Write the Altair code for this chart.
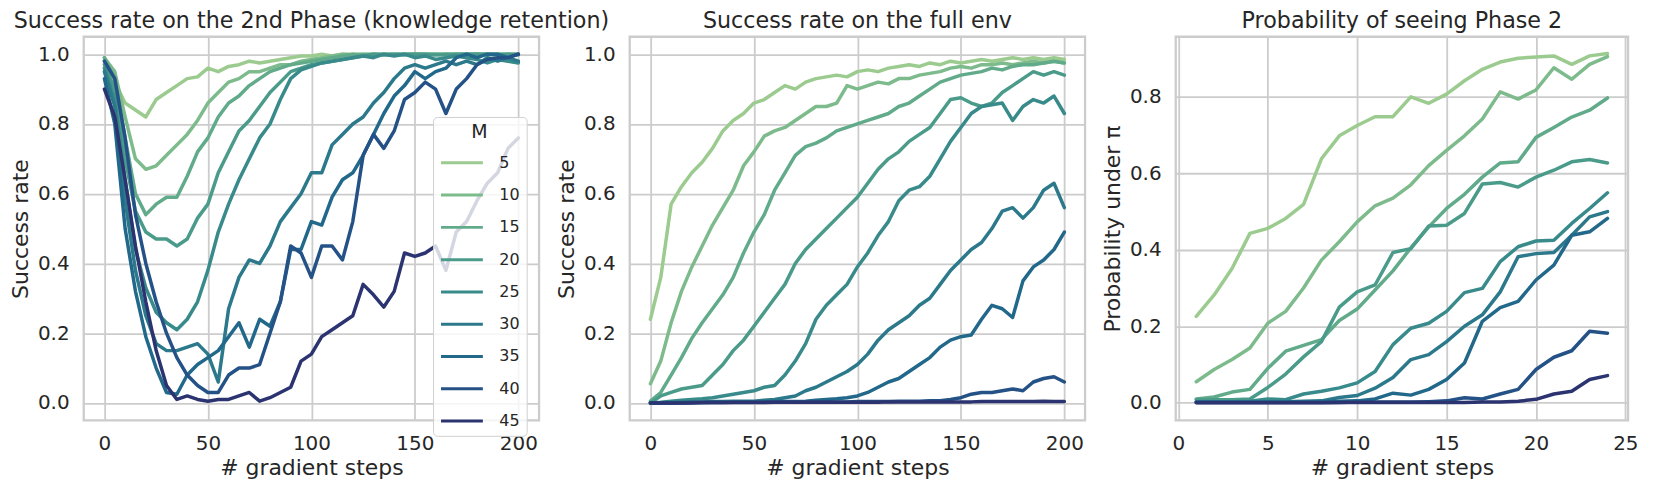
import altair as alt
import pandas as pd

M_LIST = [5, 10, 15, 20, 25, 30, 35, 40, 45]
PALETTE = ["#9ccb8f", "#7dbb8c", "#61ab8b", "#4b9b8b", "#388a8b",
           "#2b798b", "#22688a", "#255286", "#2b3470"]

STEPS_200 = list(range(0, 201, 5))
STEPS_24 = list(range(1, 25))

# ---- Panel 1: success rate on the 2nd phase (knowledge retention) ----
ret_m5 = [0.98, 0.92, 0.86, 0.84, 0.82, 0.87, 0.89, 0.91, 0.93, 0.935,
          0.96, 0.95, 0.965, 0.97, 0.98, 0.975, 0.98, 0.985, 0.99, 0.995,
          0.995, 1.0, 0.995, 1.0, 1.0, 1.0, 0.998, 1.0, 1.0, 1.0,
          1.0, 0.998, 1.0, 1.0, 1.0, 1.0, 1.0, 0.998, 1.0, 1.0, 1.0]
ret_m10 = [0.99, 0.95, 0.82, 0.70, 0.67, 0.68, 0.71, 0.74, 0.77, 0.81,
           0.86, 0.89, 0.92, 0.93, 0.95, 0.95, 0.96, 0.97, 0.97, 0.98,
           0.985, 0.99, 0.995, 1.0, 0.998, 1.0, 1.0, 1.0, 0.998, 1.0,
           1.0, 1.0, 1.0, 1.0, 0.998, 1.0, 1.0, 1.0, 1.0, 0.998, 1.0]
ret_m15 = [0.99, 0.93, 0.76, 0.60, 0.54, 0.57, 0.59, 0.59, 0.65, 0.72,
           0.76, 0.82, 0.86, 0.88, 0.91, 0.93, 0.95, 0.96, 0.97, 0.975,
           0.98, 0.985, 0.99, 0.995, 1.0, 0.998, 1.0, 1.0, 1.0, 0.998,
           1.0, 1.0, 1.0, 0.998, 1.0, 1.0, 1.0, 1.0, 1.0, 1.0, 0.998]
ret_m20 = [0.97, 0.90, 0.70, 0.55, 0.49, 0.47, 0.47, 0.45, 0.47, 0.53,
           0.57, 0.66, 0.72, 0.78, 0.81, 0.85, 0.89, 0.92, 0.95, 0.96,
           0.97, 0.975, 0.98, 0.985, 0.99, 0.995, 1.0, 0.998, 1.0, 1.0,
           1.0, 1.0, 0.998, 1.0, 1.0, 1.0, 1.0, 1.0, 0.998, 1.0, 1.0]
ret_m25 = [0.96, 0.87, 0.64, 0.44, 0.33, 0.26, 0.23, 0.21, 0.24, 0.29,
           0.38, 0.49, 0.57, 0.64, 0.70, 0.76, 0.80, 0.87, 0.93, 0.955,
           0.965, 0.975, 0.98, 0.985, 0.99, 0.995, 0.99, 1.0, 0.995, 1.0,
           0.99, 0.995, 0.985, 0.99, 0.995, 0.99, 0.985, 0.975, 0.985, 0.98, 0.975]
ret_m30 = [0.95, 0.85, 0.58, 0.38, 0.25, 0.17, 0.15, 0.15, 0.16, 0.17,
           0.14, 0.06, 0.27, 0.36, 0.41, 0.40, 0.45, 0.52, 0.56, 0.60,
           0.66, 0.66, 0.74, 0.77, 0.80, 0.82, 0.86, 0.89, 0.93, 0.96,
           0.97, 0.96, 0.97, 0.98, 0.97, 0.98, 0.97, 0.99, 0.98, 0.99, 0.98]
ret_m35 = [0.93, 0.80, 0.50, 0.32, 0.19, 0.10, 0.03, 0.025, 0.08, 0.11,
           0.13, 0.15, 0.19, 0.23, 0.16, 0.24, 0.22, 0.29, 0.44, 0.44,
           0.52, 0.51, 0.59, 0.64, 0.66, 0.71, 0.77, 0.83, 0.88, 0.91,
           0.95, 0.93, 0.95, 0.96, 0.99, 1.0, 0.99, 1.0, 1.0, 0.99, 1.0]
ret_m40 = [0.98, 0.93, 0.76, 0.54, 0.40, 0.29, 0.20, 0.13, 0.08, 0.05,
           0.03, 0.03, 0.08, 0.10, 0.10, 0.11, 0.20, 0.29, 0.45, 0.43,
           0.36, 0.45, 0.45, 0.41, 0.52, 0.71, 0.77, 0.73, 0.78, 0.87,
           0.89, 0.92, 0.90, 0.83, 0.90, 0.93, 0.97, 0.985, 0.99, 0.99, 1.0]
ret_m45 = [0.90, 0.82, 0.64, 0.45, 0.29, 0.15, 0.05, 0.01, 0.02, 0.01,
           0.005, 0.01, 0.01, 0.02, 0.03, 0.005, 0.015, 0.03, 0.045, 0.12,
           0.14, 0.19, 0.21, 0.23, 0.25, 0.34, 0.31, 0.275, 0.32, 0.43,
           0.42, 0.43, 0.45, 0.38, 0.49, 0.52, 0.58, 0.63, 0.66, 0.73, 0.76]

# ---- Panel 2: success rate on the full env ----
full_m5 = [0.24, 0.36, 0.57, 0.62, 0.66, 0.69, 0.73, 0.78, 0.81, 0.83,
           0.86, 0.87, 0.89, 0.91, 0.90, 0.92, 0.93, 0.935, 0.94, 0.935,
           0.95, 0.955, 0.95, 0.96, 0.965, 0.97, 0.965, 0.975, 0.97, 0.98,
           0.975, 0.98, 0.985, 0.98, 0.985, 0.99, 0.985, 0.99, 0.985, 0.99, 0.985]
full_m10 = [0.055, 0.12, 0.23, 0.32, 0.39, 0.45, 0.51, 0.56, 0.61, 0.68,
            0.72, 0.765, 0.78, 0.79, 0.81, 0.83, 0.85, 0.85, 0.86, 0.91,
            0.90, 0.91, 0.92, 0.915, 0.93, 0.93, 0.94, 0.945, 0.95, 0.96,
            0.965, 0.96, 0.97, 0.97, 0.975, 0.97, 0.975, 0.98, 0.975, 0.98, 0.975]
full_m15 = [0.005, 0.03, 0.08, 0.13, 0.185, 0.23, 0.27, 0.31, 0.36, 0.43,
            0.49, 0.54, 0.61, 0.66, 0.71, 0.735, 0.745, 0.76, 0.78, 0.79,
            0.80, 0.81, 0.82, 0.83, 0.85, 0.86, 0.88, 0.90, 0.92, 0.93,
            0.94, 0.945, 0.95, 0.96, 0.955, 0.965, 0.97, 0.97, 0.975, 0.98, 0.975]
full_m20 = [0.0, 0.02, 0.03, 0.04, 0.045, 0.05, 0.08, 0.11, 0.15, 0.18,
            0.22, 0.26, 0.30, 0.34, 0.40, 0.44, 0.47, 0.50, 0.53, 0.56,
            0.59, 0.63, 0.67, 0.70, 0.72, 0.75, 0.77, 0.79, 0.83, 0.87,
            0.875, 0.86, 0.85, 0.86, 0.89, 0.91, 0.93, 0.95, 0.94, 0.95, 0.94]
full_m25 = [0.0, 0.002, 0.005, 0.008, 0.01, 0.012, 0.015, 0.02, 0.025, 0.03,
            0.035, 0.045, 0.05, 0.08, 0.12, 0.17, 0.24, 0.28, 0.31, 0.34,
            0.39, 0.43, 0.48, 0.52, 0.58, 0.61, 0.62, 0.65, 0.70, 0.75,
            0.79, 0.83, 0.85, 0.855, 0.86, 0.81, 0.85, 0.87, 0.86, 0.88, 0.83]
full_m30 = [0.0, 0.0, 0.002, 0.002, 0.003, 0.003, 0.004, 0.004, 0.005, 0.005,
            0.005, 0.008, 0.01, 0.015, 0.02, 0.035, 0.045, 0.06, 0.075, 0.09,
            0.11, 0.14, 0.18, 0.21, 0.23, 0.25, 0.28, 0.30, 0.34, 0.38,
            0.41, 0.44, 0.46, 0.50, 0.55, 0.56, 0.53, 0.56, 0.61, 0.63, 0.56]
full_m35 = [0.0, 0.0, 0.0, 0.001, 0.001, 0.001, 0.002, 0.002, 0.002, 0.003,
            0.003, 0.003, 0.004, 0.004, 0.004, 0.005, 0.008, 0.01, 0.012, 0.015,
            0.02, 0.03, 0.045, 0.06, 0.07, 0.09, 0.11, 0.13, 0.16, 0.18,
            0.19, 0.195, 0.24, 0.28, 0.27, 0.245, 0.35, 0.39, 0.41, 0.44, 0.49]
full_m40 = [0.0, 0.0, 0.0, 0.0, 0.001, 0.001, 0.001, 0.001, 0.002, 0.002,
            0.002, 0.002, 0.002, 0.002, 0.003, 0.003, 0.003, 0.003, 0.003, 0.003,
            0.004, 0.004, 0.004, 0.004, 0.005, 0.005, 0.005, 0.006, 0.006, 0.01,
            0.015, 0.025, 0.03, 0.03, 0.035, 0.04, 0.035, 0.06, 0.07, 0.075, 0.06]
full_m45 = [0.0, 0.0, 0.0, 0.0, 0.0, 0.001, 0.001, 0.001, 0.001, 0.001,
            0.001, 0.001, 0.002, 0.002, 0.002, 0.002, 0.002, 0.002, 0.002, 0.002,
            0.002, 0.002, 0.002, 0.003, 0.003, 0.003, 0.003, 0.003, 0.003, 0.003,
            0.003, 0.003, 0.004, 0.004, 0.004, 0.004, 0.004, 0.004, 0.005, 0.004, 0.004]

# ---- Panel 3: probability of seeing Phase 2 ----
prob_m5 = [0.226, 0.282, 0.351, 0.443, 0.456, 0.482, 0.519, 0.638, 0.698, 0.725,
           0.748, 0.748, 0.80, 0.783, 0.807, 0.842, 0.872, 0.891, 0.901, 0.904,
           0.907, 0.885, 0.907, 0.913]
prob_m10 = [0.055, 0.087, 0.113, 0.143, 0.208, 0.239, 0.30, 0.373, 0.421, 0.473,
            0.515, 0.535, 0.57, 0.62, 0.66, 0.698, 0.742, 0.813, 0.794, 0.818,
            0.876, 0.846, 0.885, 0.905]
prob_m15 = [0.01, 0.015, 0.028, 0.035, 0.09, 0.135, 0.15, 0.165, 0.215, 0.245,
            0.295, 0.345, 0.405, 0.46, 0.508, 0.545, 0.59, 0.627, 0.63, 0.694,
            0.72, 0.747, 0.765, 0.797]
prob_m20 = [0.008, 0.008, 0.008, 0.01, 0.04, 0.075, 0.12, 0.16, 0.25, 0.29,
            0.308, 0.393, 0.403, 0.462, 0.464, 0.495, 0.572, 0.576, 0.564, 0.59,
            0.608, 0.63, 0.636, 0.627]
prob_m25 = [0.002, 0.002, 0.003, 0.004, 0.01, 0.008, 0.023, 0.03, 0.039, 0.052,
            0.082, 0.152, 0.195, 0.208, 0.239, 0.288, 0.299, 0.369, 0.408, 0.423,
            0.425, 0.469, 0.508, 0.549]
prob_m30 = [0.002, 0.002, 0.002, 0.002, 0.003, 0.003, 0.004, 0.005, 0.014, 0.019,
            0.038, 0.066, 0.113, 0.126, 0.16, 0.2, 0.23, 0.29, 0.382, 0.39,
            0.393, 0.438, 0.486, 0.50]
prob_m35 = [0.002, 0.002, 0.002, 0.002, 0.002, 0.002, 0.003, 0.003, 0.004, 0.005,
            0.01, 0.025, 0.02, 0.035, 0.061, 0.104, 0.213, 0.249, 0.265, 0.321,
            0.36, 0.438, 0.447, 0.482]
prob_m40 = [0.001, 0.001, 0.001, 0.001, 0.001, 0.001, 0.001, 0.001, 0.001, 0.002,
            0.002, 0.002, 0.002, 0.003, 0.005, 0.013, 0.01, 0.023, 0.035, 0.087,
            0.119, 0.136, 0.187, 0.182]
prob_m45 = [0.0, 0.0, 0.0, 0.0, 0.0, 0.0, 0.0, 0.0, 0.001, 0.001,
            0.001, 0.001, 0.001, 0.001, 0.001, 0.001, 0.002, 0.002, 0.004, 0.009,
            0.023, 0.03, 0.061, 0.071]

FONT = "DejaVu Sans"
TXT = "#262626"
GRID = "#cccccc"


def long_table(steps, series):
    rows = []
    for m, vals in zip(M_LIST, series):
        for s, v in zip(steps, vals):
            rows.append({"step": s, "value": v, "M": m})
    return pd.DataFrame(rows)


df1 = long_table(STEPS_200, [ret_m5, ret_m10, ret_m15, ret_m20, ret_m25,
                             ret_m30, ret_m35, ret_m40, ret_m45])
df2 = long_table(STEPS_200, [full_m5, full_m10, full_m15, full_m20, full_m25,
                             full_m30, full_m35, full_m40, full_m45])
df3 = long_table(STEPS_24, [prob_m5, prob_m10, prob_m15, prob_m20, prob_m25,
                            prob_m30, prob_m35, prob_m40, prob_m45])

legend1 = alt.Legend(
    title="M", orient="none", legendX=350.6, legendY=80.5, direction="vertical",
    symbolType="stroke", symbolSize=1764, symbolStrokeWidth=3.0,
    labelFont=FONT, labelFontSize=16, labelColor=TXT, labelOffset=15,
    titleFont=FONT, titleFontSize=19, titleFontWeight="normal", titleColor=TXT,
    titleAnchor="middle", titleAlign="center", titlePadding=-2,
    fillColor="rgba(255,255,255,0.8)", strokeColor="#d0d0d0", cornerRadius=4,
    padding=6.5, rowPadding=1.4,
)


def panel(df, title, xdom, xticks, ydom, yticks, ytitle, width, legend):
    return alt.Chart(df).mark_line(
        strokeWidth=3.5, strokeJoin="round", strokeCap="round", clip=True
    ).encode(
        x=alt.X("step:Q",
                scale=alt.Scale(domain=xdom, nice=False, zero=False),
                axis=alt.Axis(values=xticks, title="# gradient steps", format="d",
                              labelPadding=29.3, labelBaseline="alphabetic",
                              titleBaseline="alphabetic", titleY=54)),
        y=alt.Y("value:Q",
                scale=alt.Scale(domain=ydom, nice=False, zero=False),
                axis=alt.Axis(values=yticks, title=ytitle, format=".1f",
                              labelPadding=14.7, titleX=-56.5,
                              titleBaseline="alphabetic")),
        color=alt.Color("M:O", scale=alt.Scale(domain=M_LIST, range=PALETTE),
                        legend=legend),
    ).properties(
        width=width, height=385,
        title=alt.TitleParams(title, font=FONT, fontSize=22.3, fontWeight="normal",
                              color=TXT, anchor="middle", baseline="alphabetic",
                              offset=-13.5),
    )


p1 = panel(df1, "Success rate on the 2nd Phase (knowledge retention)",
           [-10, 210], [0, 50, 100, 150, 200], [-0.05, 1.05],
           [0.0, 0.2, 0.4, 0.6, 0.8, 1.0], "Success rate", 457, legend1)
p2 = panel(df2, "Success rate on the full env",
           [-10, 210], [0, 50, 100, 150, 200], [-0.05, 1.05],
           [0.0, 0.2, 0.4, 0.6, 0.8, 1.0], "Success rate", 457, None)
p3 = panel(df3, "Probability of seeing Phase 2",
           [-0.15, 25.15], [0, 5, 10, 15, 20, 25], [-0.046, 0.957],
           [0.0, 0.2, 0.4, 0.6, 0.8], "Probability under π", 454, None)

chart = alt.hconcat(p1, p2, p3, spacing=91, bounds="flush").resolve_scale(
    color="independent"
).resolve_legend(color="independent").configure_view(
    stroke=GRID, strokeWidth=2.3
).configure_axis(
    grid=True, gridColor=GRID, gridWidth=1.8, domain=False, ticks=False, tickSize=0,
    labelFont=FONT, labelFontSize=20, labelColor=TXT,
    titleFont=FONT, titleFontSize=22, titleFontWeight="normal", titleColor=TXT,
).properties(padding={"left": 0, "top": 0, "right": 5, "bottom": 5})

chart.save("out.html", embed_options={"renderer": "svg", "actions": False})
